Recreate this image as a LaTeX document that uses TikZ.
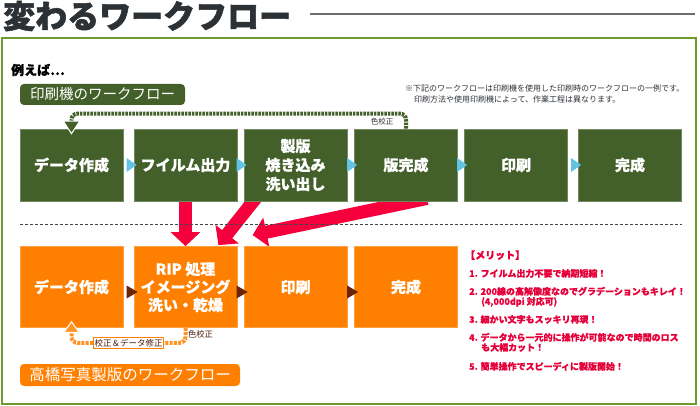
\documentclass[tikz,border=0pt]{standalone}
\usepackage{fontspec}
\setmainfont{Noto Sans CJK JP}[BoldFeatures={FakeBold=0.6}]
\newfontfamily\heavyfont{Noto Sans CJK JP}[BoldFeatures={FakeBold=1.6}]
\usetikzlibrary{arrows.meta,calc,backgrounds}
\definecolor{boxgreen}{HTML}{44602A}
\definecolor{framegreen}{HTML}{6E9B2E}
\definecolor{boxorange}{HTML}{FF8000}
\definecolor{tribrown}{HTML}{6B2408}
\definecolor{triblue}{HTML}{62C3E3}
\definecolor{bigred}{HTML}{F5003C}
\definecolor{meritred}{HTML}{E6003A}
\definecolor{titlegray}{HTML}{2C3136}
\begin{document}
\begin{tikzpicture}[x=1pt,y=-1pt,
        gbox/.style={fill=boxgreen,draw=boxgreen!75!white,line width=0.8pt,minimum width=103pt,minimum height=72pt,inner sep=0pt,text=white,align=center,font=\bfseries\fontsize{15}{19}\selectfont},
        obox/.style={gbox,fill=boxorange,draw=boxorange!75!white,minimum height=81pt,font=\bfseries\fontsize{15}{18}\selectfont},
        flowlabel/.style={rounded corners=4pt,inner sep=0pt,text=white,font=\fontsize{14.5}{16}\selectfont},
        smallnote/.style={inner sep=0pt,text=titlegray,font=\fontsize{7.5}{8}\selectfont},
        gdots/.style={draw=boxgreen,line width=4pt,dash pattern=on 2.5pt off 1pt,rounded corners=6pt,-{Triangle[width=18pt,length=14pt,color=white,fill=boxgreen,line width=1pt]}},
        odots/.style={draw=boxorange!85!white,line width=4pt,dash pattern=on 3pt off 1.2pt,rounded corners=6pt,-{Triangle[width=17pt,length=12pt,color=white,fill=boxorange!85!white,line width=1pt]}},
        bigarrow/.style={draw=bigred,line width=13pt,-{Triangle[width=29pt,length=14pt]}}]
                        % \helpgrid{3}{3}

                        \node [anchor=west,inner sep=0pt,text=titlegray,font=\heavyfont\bfseries\fontsize{32}{32}\selectfont] (title) at (3,16) {変わるワークフロー};
                        \draw [titlegray!70,line width=1.5pt] (310,14)--(695,14);
                        \draw [framegreen,line width=2pt] (1.8,38.5) rectangle (696,403.5);
                        \node [anchor=west,inner sep=0pt,font=\bfseries\fontsize{13}{14}\selectfont] (example) at (11,70) {例えば…};
                        \node [flowlabel,fill=boxgreen,minimum width=165pt,minimum height=21pt] (glabel) at (102.5,94.5) {印刷機のワークフロー};
                        \node [anchor=west,inner sep=0pt,align=left,text=titlegray,font=\fontsize{8}{11}\selectfont] (note) at (405,93.5) {※下記のワークフローは印刷機を使用した印刷時のワークフローの一例です。\\\hspace*{9pt}印刷方法や使用印刷機によって、作業工程は異なります。};

                        \node [gbox] (g1) at (71.5,165) {データ作成};
                        \node [gbox] (g2) at (185.5,165) {フイルム出力};
                        \node [gbox] (g3) at (295.5,165) {製版\\焼き込み\\洗い出し};
                        \node [gbox] (g4) at (406,165) {版完成};
                        \node [gbox] (g5) at (516,165) {印刷};
                        \node [gbox] (g6) at (630,165) {完成};
                        \fill [triblue] (g2.west) ++(3,0)--++(-10,-7)--++(0,14)--cycle;
                        \fill [triblue] (g3.west) ++(3,0)--++(-10,-7)--++(0,14)--cycle;
                        \fill [triblue] (g4.west) ++(3,0)--++(-10,-7)--++(0,14)--cycle;
                        \fill [triblue] (g5.west) ++(3,0)--++(-10,-7)--++(0,14)--cycle;
                        \fill [triblue] (g6.west) ++(3,0)--++(-10,-7)--++(0,14)--cycle;
                        \draw [gdots] (g4.north)--++(0,-15) -| ($(g1.north)+(0,6)$);
                        \node [smallnote] (gcheck) at ($(g4.north)+(-24,-7)$) {色校正};

                        \draw [titlegray!90,line width=0.7pt,dash pattern=on 3pt off 2pt] (20,224)--(682,224);

                        \node [obox] (o1) at (71.5,287) {データ作成};
                        \node [obox] (o2) at (185.5,287) {RIP 処理\\イメージング\\洗い・乾燥};
                        \node [obox] (o3) at (295.5,287) {印刷};
                        \node [obox] (o4) at (406,287) {完成};
                        \fill [tribrown] (o2.west) ++(4,5)--++(-11,-6.5)--++(0,13)--cycle;
                        \fill [tribrown] (o3.west) ++(4,5)--++(-11,-6.5)--++(0,13)--cycle;
                        \fill [tribrown] (o4.west) ++(4,5)--++(-11,-6.5)--++(0,13)--cycle;
                        \draw [odots] (o2.south)--++(0,15) -| node [pos=0.25,fill=white,draw=boxorange,solid,sharp corners,line width=0.6pt,inner sep=1.2pt,text=tribrown!70!black,font=\fontsize{8.5}{9}\selectfont] (fixnote) {校正＆データ修正} ($(o1.south)+(0,-7)$);
                        \node [smallnote,text=tribrown!70!black,font=\fontsize{8.3}{9}\selectfont] (ocheck) at ($(o2.south)+(15,6)$) {色校正};
                        \node [flowlabel,fill=boxorange,minimum width=220pt,minimum height=22pt,font=\fontsize{15.5}{17}\selectfont] (olabel) at (130,375) {高橋写真製版のワークフロー};

                        \node [anchor=west,inner sep=0pt,align=left,text=meritred,font=\bfseries\fontsize{9}{10}\selectfont] (merit) at (469,310.5) {{\fontsize{10}{10}\selectfont\hspace*{-4pt}【メリット】}\\[8pt]1. フイルム出力不要で納期短縮！\\[8pt]2. 200線の高解像度なのでグラデーションもキレイ！\\\hspace*{12pt}(4,000dpi 対応可)\\[8pt]3. 細かい文字もスッキリ再現！\\[8pt]4. データから一元的に操作が可能なので時間のロス\\\hspace*{12pt}も大幅カット！\\[9pt]5. 簡単操作でスピーディに製版開始！};

                        \begin{scope}[on background layer]
                        \fill [white] (0,0) rectangle (700,406);
                        \draw [bigarrow] (g2.south)--(o2.north);
                        \draw [bigarrow] ($(g3.south west)+(16,-8)$)--($(o2.north east)+(-19,-1)$);
                        \draw [bigarrow] ($(g4.south west)+(73,-3)$)--($(o3.north west)+(9,-11)$);
                        \end{scope}
                        \useasboundingbox (0,0) rectangle (700,406);
                    \end{tikzpicture}
\end{document}
